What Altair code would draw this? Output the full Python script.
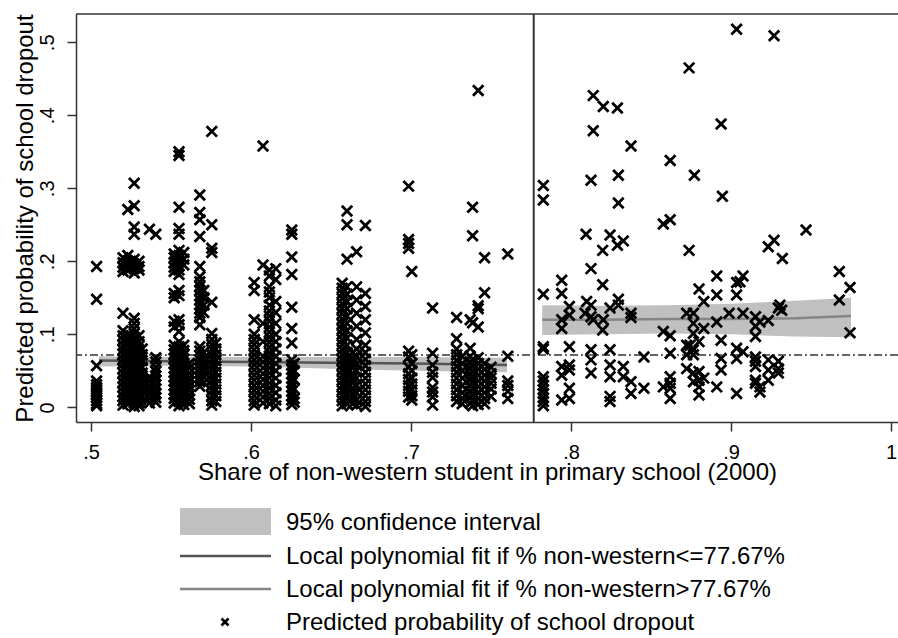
import altair as alt
import pandas as pd

FONT = "Liberation Sans, Arial, sans-serif"
CROSS = "M-1,-1L1,1M-1,1L1,-1"

# Share of non-western pupils per school (x) and the predicted dropout
# probabilities of its students (one list per school), share <= 77.67%
left_share = [
    0.5035, 0.520, 0.523, 0.527, 0.530, 0.532, 0.5365, 0.5405,
    0.552, 0.555, 0.558, 0.5615, 0.568, 0.5705, 0.5755, 0.578,
    0.602, 0.6075, 0.6115, 0.6155, 0.6255, 0.627,
    0.657, 0.660, 0.6635, 0.666, 0.6715,
    0.6985, 0.7005, 0.7135, 0.7285, 0.732,
    0.737, 0.7385, 0.742, 0.746, 0.750, 0.7605,
]
left_prob = [
    [0.193, 0.148, 0.057, 0.036, 0.031, 0.027, 0.022, 0.018, 0.013, 0.009, 0.005, 0.002],
    [0.205, 0.198, 0.192, 0.186, 0.129, 0.105, 0.098, 0.092, 0.085, 0.079, 0.073, 0.066,
     0.060, 0.053, 0.047, 0.040, 0.034, 0.028, 0.021, 0.015, 0.009, 0.003],
    [0.271, 0.208, 0.200, 0.194, 0.188, 0.100, 0.094, 0.087, 0.081, 0.075, 0.068, 0.062,
     0.056, 0.049, 0.043, 0.037, 0.030, 0.024, 0.018, 0.011, 0.005],
    [0.307, 0.276, 0.247, 0.237, 0.203, 0.196, 0.190, 0.184, 0.122, 0.115, 0.108, 0.101,
     0.095, 0.088, 0.082, 0.076, 0.069, 0.063, 0.057, 0.050, 0.044, 0.038, 0.031, 0.025,
     0.019, 0.012, 0.006, 0.001],
    [0.200, 0.193, 0.188, 0.098, 0.090, 0.084, 0.078, 0.071, 0.065, 0.058, 0.052, 0.045,
     0.039, 0.033, 0.026, 0.020, 0.014, 0.007, 0.002],
    [0.080, 0.072, 0.064, 0.055, 0.047, 0.039, 0.031, 0.023, 0.015, 0.008],
    [0.244, 0.042, 0.036, 0.030, 0.024, 0.018, 0.012, 0.006],
    [0.237, 0.068, 0.062, 0.055, 0.049, 0.043, 0.037, 0.031, 0.025, 0.019, 0.013, 0.007],
    [0.210, 0.205, 0.198, 0.192, 0.186, 0.156, 0.150, 0.118, 0.110, 0.085, 0.079, 0.073,
     0.067, 0.060, 0.054, 0.048, 0.042, 0.036, 0.030, 0.024, 0.018, 0.012, 0.006],
    [0.350, 0.345, 0.274, 0.245, 0.237, 0.215, 0.208, 0.200, 0.194, 0.188, 0.182, 0.160,
     0.153, 0.120, 0.113, 0.104, 0.090, 0.083, 0.077, 0.070, 0.064, 0.058, 0.051, 0.045,
     0.039, 0.033, 0.026, 0.020, 0.014, 0.008, 0.002],
    [0.212, 0.203, 0.195, 0.085, 0.078, 0.072, 0.066, 0.059, 0.053, 0.047, 0.041, 0.034,
     0.028, 0.022, 0.016, 0.010, 0.004],
    [0.060, 0.054, 0.047, 0.041, 0.035, 0.029, 0.023, 0.017, 0.011, 0.005],
    [0.291, 0.267, 0.257, 0.234, 0.193, 0.179, 0.172, 0.166, 0.160, 0.153, 0.147, 0.141,
     0.135, 0.129, 0.123, 0.113, 0.083, 0.077, 0.071, 0.065, 0.059, 0.053, 0.047, 0.041,
     0.035, 0.029],
    [0.160, 0.150, 0.140, 0.130, 0.075, 0.066, 0.058, 0.050, 0.042, 0.034],
    [0.378, 0.250, 0.218, 0.212, 0.144, 0.101, 0.093, 0.086, 0.079, 0.072, 0.065, 0.058,
     0.051, 0.044, 0.037, 0.030, 0.023, 0.016, 0.009, 0.003],
    [0.088, 0.080, 0.072, 0.064, 0.056, 0.048, 0.040, 0.032, 0.024, 0.016, 0.008],
    [0.171, 0.160, 0.120, 0.100, 0.093, 0.086, 0.079, 0.072, 0.065, 0.058, 0.051, 0.044,
     0.037, 0.030, 0.023, 0.016, 0.009, 0.003],
    [0.358, 0.195, 0.115, 0.090, 0.070, 0.062, 0.054, 0.046, 0.038, 0.030, 0.022, 0.014, 0.006],
    [0.188, 0.180, 0.165, 0.158, 0.150, 0.140, 0.132, 0.125, 0.118, 0.110, 0.103, 0.096,
     0.089, 0.082, 0.075, 0.068, 0.061, 0.054, 0.047, 0.040, 0.033, 0.026, 0.019, 0.012, 0.005],
    [0.190, 0.175, 0.145, 0.130, 0.115, 0.100, 0.090, 0.080, 0.070, 0.060, 0.050, 0.040,
     0.030, 0.020, 0.010, 0.002],
    [0.243, 0.237, 0.206, 0.182, 0.137, 0.108, 0.088, 0.065, 0.058, 0.052, 0.046, 0.040,
     0.034, 0.028, 0.022, 0.016, 0.010, 0.004],
    [0.060, 0.050, 0.038, 0.025, 0.012, 0.007],
    [0.170, 0.163, 0.156, 0.149, 0.142, 0.135, 0.128, 0.121, 0.114, 0.107, 0.100, 0.093,
     0.086, 0.079, 0.072, 0.065, 0.058, 0.051, 0.044, 0.037, 0.030, 0.023, 0.016, 0.009, 0.002],
    [0.269, 0.250, 0.203, 0.165, 0.155, 0.145, 0.135, 0.125, 0.115, 0.105, 0.095, 0.085,
     0.075, 0.068, 0.061, 0.054, 0.047, 0.040, 0.033, 0.026, 0.019, 0.012, 0.005],
    [0.075, 0.068, 0.061, 0.054, 0.047, 0.040, 0.033, 0.026, 0.019, 0.012, 0.005],
    [0.213, 0.165, 0.147, 0.129, 0.111, 0.093, 0.080, 0.070, 0.060, 0.050, 0.040, 0.030,
     0.020, 0.010, 0.003],
    [0.249, 0.156, 0.138, 0.120, 0.102, 0.085, 0.075, 0.066, 0.057, 0.048, 0.040, 0.032,
     0.024, 0.016, 0.008, 0.001],
    [0.303, 0.230, 0.2245, 0.218, 0.077, 0.069, 0.055, 0.046, 0.038, 0.030, 0.022, 0.014],
    [0.186, 0.072, 0.060, 0.050, 0.040, 0.032, 0.024, 0.016, 0.010],
    [0.136, 0.074, 0.058, 0.048, 0.041, 0.027, 0.021, 0.014, 0.003],
    [0.123, 0.094, 0.080, 0.072, 0.064, 0.056, 0.048, 0.040, 0.032, 0.024, 0.016, 0.008],
    [0.070, 0.060, 0.050, 0.040, 0.030, 0.020, 0.012, 0.005],
    [0.120, 0.081, 0.070, 0.062, 0.054, 0.046, 0.038, 0.030, 0.022, 0.014, 0.006],
    [0.274, 0.235, 0.116, 0.065, 0.057, 0.049, 0.041, 0.033, 0.025, 0.017, 0.009, 0.002],
    [0.434, 0.139, 0.135, 0.110, 0.068, 0.060, 0.052, 0.044, 0.036, 0.028, 0.020, 0.012, 0.004],
    [0.205, 0.157, 0.060, 0.052, 0.044, 0.036, 0.028, 0.020, 0.012, 0.005],
    [0.055, 0.046, 0.040, 0.033, 0.025, 0.015],
    [0.210, 0.070, 0.036, 0.030, 0.022, 0.012],
]

# Same, schools above the cutoff
right_share = [
    0.7827, 0.7942, 0.7990, 0.8088, 0.8094, 0.8098, 0.8125, 0.8139, 0.8198, 0.8202,
    0.8244, 0.8290, 0.8296, 0.8327, 0.8375, 0.8456, 0.8577, 0.8620, 0.8723, 0.8738,
    0.8744, 0.8765, 0.8771, 0.8800, 0.8830, 0.8911, 0.8938, 0.8946, 0.8988, 0.9035,
    0.9056, 0.9075, 0.9153, 0.9181, 0.9233, 0.9269, 0.9296, 0.9306, 0.9317, 0.9321,
    0.9469, 0.9677, 0.9744,
]
right_prob = [
    [0.304, 0.284, 0.155, 0.083, 0.080, 0.042, 0.036, 0.030, 0.024, 0.019, 0.013, 0.008, 0.002],
    [0.174, 0.156, 0.120, 0.108, 0.056, 0.044, 0.010],
    [0.138, 0.126, 0.083, 0.058, 0.051, 0.026, 0.012],
    [0.129],
    [0.237],
    [0.145],
    [0.311, 0.190, 0.140, 0.124, 0.079, 0.065, 0.047],
    [0.427, 0.379, 0.120],
    [0.215, 0.168, 0.106],
    [0.412, 0.120],
    [0.236, 0.136, 0.079, 0.058, 0.042, 0.015, 0.008],
    [0.410, 0.222],
    [0.318, 0.280, 0.148, 0.140],
    [0.228, 0.056, 0.042],
    [0.358, 0.129, 0.123, 0.035, 0.019],
    [0.069, 0.026],
    [0.251, 0.104, 0.028],
    [0.338, 0.257, 0.098, 0.074, 0.042, 0.033, 0.026, 0.012],
    [0.129, 0.085, 0.072, 0.053],
    [0.465, 0.215],
    [0.085],
    [0.129, 0.115, 0.101, 0.079, 0.072, 0.047, 0.035],
    [0.318],
    [0.162, 0.090, 0.049, 0.037, 0.028, 0.017],
    [0.145, 0.108, 0.040],
    [0.180, 0.154, 0.117, 0.028],
    [0.388, 0.092, 0.067, 0.051],
    [0.289],
    [0.129],
    [0.518, 0.171, 0.154, 0.081, 0.067, 0.019],
    [0.172],
    [0.180, 0.129, 0.076],
    [0.124, 0.111, 0.097, 0.069, 0.063, 0.056, 0.037, 0.033],
    [0.117, 0.028, 0.021],
    [0.220, 0.119, 0.065, 0.051, 0.037],
    [0.509, 0.229],
    [0.136, 0.063, 0.053, 0.047],
    [0.140],
    [0.133],
    [0.204],
    [0.243],
    [0.186, 0.147],
    [0.164, 0.102],
]

# Local polynomial fits with 95% confidence bounds on each side of the cutoff
fit_left_x = [0.505, 0.55, 0.60, 0.65, 0.70, 0.76]
fit_left_y = [0.064, 0.063, 0.062, 0.061, 0.060, 0.058]
fit_left_lo = [0.056, 0.057, 0.056, 0.053, 0.050, 0.048]
fit_left_hi = [0.070, 0.069, 0.069, 0.069, 0.069, 0.068]

fit_right_x = [0.782, 0.82, 0.86, 0.90, 0.94, 0.975]
fit_right_y = [0.120, 0.120, 0.121, 0.121, 0.122, 0.125]
fit_right_lo = [0.099, 0.100, 0.101, 0.100, 0.097, 0.096]
fit_right_hi = [0.140, 0.139, 0.140, 0.142, 0.146, 0.150]

cutoff = 0.7767
mean_dropout = 0.0716

x_ticks = [0.5, 0.6, 0.7, 0.8, 0.9, 1.0]
y_ticks = [0.0, 0.1, 0.2, 0.3, 0.4, 0.5]

legend_labels = [
    "95% confidence interval",
    "Local polynomial fit if % non-western<=77.67%",
    "Local polynomial fit if % non-western>77.67%",
    "Predicted probability of school dropout",
]

# ---- tables -------------------------------------------------------------
rows = []
for share, probs in zip(left_share + right_share, left_prob + right_prob):
    for p in probs:
        rows.append({"share": share, "prob": p})
points = pd.DataFrame(rows)

fit_left = pd.DataFrame({"share": fit_left_x, "fit": fit_left_y,
                         "lo": fit_left_lo, "hi": fit_left_hi})
fit_right = pd.DataFrame({"share": fit_right_x, "fit": fit_right_y,
                          "lo": fit_right_lo, "hi": fit_right_hi})

x_scale = alt.Scale(domain=[0.490625, 1.004375], nice=False, zero=False)
y_scale = alt.Scale(domain=[-0.0201, 0.5388], nice=False, zero=False)

tick_label = "datum.value == 0 ? '0' : datum.value == 1 ? '1' : replace(format(datum.value, '.1f'), '0.', '.')"

x_axis = alt.Axis(
    values=x_ticks, labelExpr=tick_label, grid=False, domain=True,
    domainColor="#333333", domainWidth=1.5, tickColor="#333333", tickWidth=1.5,
    tickSize=9, labelFont=FONT, labelFontSize=20, labelColor="black",
    labelBaseline="alphabetic", labelPadding=27, labelFlush=False,
    labelOverlap=False,
    title="Share of non-western student in primary school (2000)",
    titleFont=FONT, titleFontSize=24, titleFontWeight="normal",
    titleColor="black", titleBaseline="alphabetic", titleY=57,
)
y_axis = alt.Axis(
    values=y_ticks, labelExpr=tick_label, grid=False, domain=True,
    domainColor="#333333", domainWidth=1.5, tickColor="#333333", tickWidth=1.5,
    tickSize=9, labelFont=FONT, labelFontSize=20, labelColor="black",
    labelAngle=270, labelAlign="center", labelBaseline="alphabetic",
    labelPadding=14, labelFlush=False, labelOverlap=False,
    title="Predicted probability of school dropout",
    titleFont=FONT, titleFontSize=24, titleFontWeight="normal",
    titleColor="black", titleAngle=270, titleAlign="center",
    titleBaseline="alphabetic", titleX=-44, titleY=204,
)

band_l = alt.Chart(fit_left).mark_area(color="#c0c0c0", opacity=1).encode(
    x=alt.X("share:Q", scale=x_scale, axis=x_axis),
    y=alt.Y("lo:Q", scale=y_scale, axis=y_axis),
    y2="hi:Q",
)
band_r = alt.Chart(fit_right).mark_area(color="#c0c0c0", opacity=1).encode(
    x="share:Q", y="lo:Q", y2="hi:Q",
)
line_l = alt.Chart(fit_left).mark_line(color="#555555", strokeWidth=2.5).encode(
    x="share:Q", y="fit:Q",
)
line_r = alt.Chart(fit_right).mark_line(color="#858585", strokeWidth=2.5).encode(
    x="share:Q", y="fit:Q",
)

ref = pd.DataFrame({"cutoff": [cutoff], "mean": [mean_dropout]})
mean_rule = alt.Chart(ref).mark_rule(
    color="#333333", strokeWidth=1.4, strokeDash=[8, 3, 2, 3]
).encode(y="mean:Q")
cut_rule = alt.Chart(ref).mark_rule(color="#333333", strokeWidth=2).encode(
    x="cutoff:Q"
)

scatter = alt.Chart(points).mark_point(
    shape=CROSS, filled=False, color="black", strokeWidth=2.8, size=110, opacity=1
).encode(x="share:Q", y="prob:Q")

# top border of the plot region
frame_top = alt.Chart(ref).mark_rule(color="#333333", strokeWidth=1.5).encode(
    y=alt.value(0)
)

# ---- legend block below the plot ----------------------------------------
leg = [pd.DataFrame({"label": [lab]}) for lab in legend_labels]
row_mid = [508, 542, 575, 608]
legend_layers = [
    alt.Chart(leg[0]).mark_rect(color="#c0c0c0").encode(
        x=alt.value(104), x2=alt.value(195),
        y=alt.value(row_mid[0] - 14), y2=alt.value(row_mid[0] + 13)),
    alt.Chart(leg[1]).mark_rule(color="#555555", strokeWidth=2.5).encode(
        x=alt.value(104), x2=alt.value(195), y=alt.value(row_mid[1])),
    alt.Chart(leg[2]).mark_rule(color="#858585", strokeWidth=2.5).encode(
        x=alt.value(104), x2=alt.value(195), y=alt.value(row_mid[2])),
    alt.Chart(leg[3]).mark_point(
        shape=CROSS, filled=False, color="black", strokeWidth=2.6, size=49, opacity=1
    ).encode(x=alt.value(149), y=alt.value(row_mid[3])),
]
for i, df in enumerate(leg):
    legend_layers.append(
        alt.Chart(df).mark_text(
            align="left", baseline="alphabetic", font=FONT, fontSize=24, color="black"
        ).encode(x=alt.value(210), y=alt.value(row_mid[i] + 8), text="label:N")
    )

chart = alt.layer(
    band_l, band_r, line_l, line_r, mean_rule, cut_rule, scatter, frame_top,
    *legend_layers,
).properties(
    width=822, height=408,
    autosize=alt.AutoSizeParams(type="none"),
    padding={"left": 76, "top": 14, "right": 0, "bottom": 216},
    background="white",
).configure_view(stroke=None)

chart.save("out.html", embed_options={"renderer": "svg", "actions": False})
